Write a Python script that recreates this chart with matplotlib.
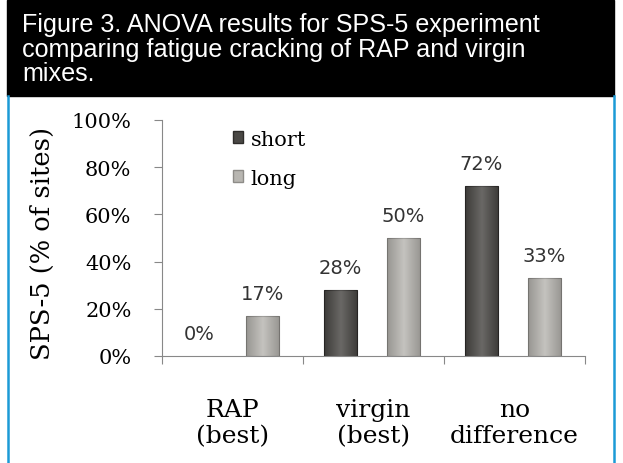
import matplotlib
matplotlib.use("Agg")
import matplotlib.pyplot as plt
import numpy as np
from matplotlib.patches import Rectangle, Patch
from matplotlib.lines import Line2D

# data
categories = ["RAP\n(best)", "virgin\n(best)", "no\ndifference"]
short_vals = [0.0, 0.28, 0.72]
long_vals = [0.17, 0.50, 0.33]
series_names = ["short", "long"]
y_ticks = [0, 0.2, 0.4, 0.6, 0.8, 1.0]
title_lines = [
    "Figure 3. ANOVA results for SPS-5 experiment",
    "comparing fatigue cracking of RAP and virgin",
    "mixes.",
]

W, H = 623, 464
fig = plt.figure(figsize=(W / 100, H / 100), dpi=100)
fig.patch.set_facecolor("white")


def fx(px):
    return px / W


def fy(py):
    return 1 - py / H


# black title band
fig.patches.append(Rectangle((fx(7), fy(97)), fx(614) - fx(7), fy(1) - fy(97),
                             transform=fig.transFigure, color="black", zorder=0))
for i, line in enumerate(title_lines):
    fig.text(fx(22), fy(32 + 24.5 * i), line, color="white", fontsize=18.1,
             family="Liberation Sans", va="baseline", ha="left")

# blue frame around the chart
blue = "#1c9ad6"
fig.add_artist(Line2D([fx(8), fx(8)], [fy(97), 0], transform=fig.transFigure,
                      color=blue, lw=1.8))
fig.add_artist(Line2D([fx(614), fx(614)], [fy(97), 0], transform=fig.transFigure,
                      color=blue, lw=1.8))

ax = fig.add_axes([fx(162), fy(357), fx(585) - fx(162), fy(121) - fy(357)])
ax.set_facecolor("none")

x = np.arange(len(categories))
bw = 0.235
dark = "#4a4845"
light = "#b8b6b1"


def shaded(ax, xs, vals, base, edge):
    bars = ax.bar(xs, vals, width=bw, color=base, edgecolor=edge, lw=0.8, zorder=2)
    for b in bars:
        if b.get_height() <= 0:
            b.set_linewidth(0)
            continue
        # soft horizontal shading inside each bar
        g = np.abs(np.linspace(-1, 1, 64))[None, :]
        img = ax.imshow(g, cmap=matplotlib.colors.LinearSegmentedColormap.from_list(
            "s", ["white", "black"]), alpha=0.18, aspect="auto",
            extent=[b.get_x(), b.get_x() + b.get_width(), 0, b.get_height()],
            zorder=3, vmin=0, vmax=1)
        img.set_clip_path(b)
    return bars


shaded(ax, x - 0.234, short_vals, dark, "#2e2c2a")
shaded(ax, x + 0.213, long_vals, light, "#8e8c88")

for xs, vals in ((x - 0.234, short_vals), (x + 0.213, long_vals)):
    for xi, v in zip(xs, vals):
        ax.annotate(f"{v * 100:.0f}%", (xi, v), xytext=(0, 16),
                    textcoords="offset points", ha="center", va="center",
                    fontsize=14, color="#333333", family="DejaVu Sans")

ax.set_xlim(-0.5, len(categories) - 0.5)
ax.set_ylim(0, 1)
ax.set_yticks(y_ticks)
ax.set_yticklabels([f"{t * 100:.0f}%" for t in y_ticks], family="DejaVu Serif",
                   fontsize=15)
ax.set_xticks(np.arange(len(categories) + 1) - 0.5)
ax.set_xticklabels([])
ax.set_xticks(x, minor=True)
ax.set_xticklabels(categories, minor=True, family="DejaVu Serif", fontsize=18,
                   linespacing=1.2)
ax.tick_params(axis="x", which="minor", length=0, pad=30)
ax.tick_params(axis="x", which="major", length=6, color="#888888", direction="out")
ax.tick_params(axis="y", length=6, color="#888888", pad=16)

for s in ("top", "right"):
    ax.spines[s].set_visible(False)
for s in ("left", "bottom"):
    ax.spines[s].set_color("#888888")

fig.text(fx(42), fy(244), "SPS-5 (% of sites)", rotation=90, ha="center",
         va="center", family="DejaVu Serif", fontsize=18.5)

handles = [Patch(facecolor=dark, edgecolor="#2e2c2a"),
           Patch(facecolor=light, edgecolor="#8e8c88")]
ax.legend(handles, series_names, loc="upper left", bbox_to_anchor=(fx(214), fy(112)),
          bbox_transform=fig.transFigure, frameon=False,
          prop={"family": "DejaVu Serif", "size": 15}, handlelength=0.5,
          handleheight=0.5, handletextpad=0.35, labelspacing=0.95)

fig.savefig("out.png", dpi=100)
